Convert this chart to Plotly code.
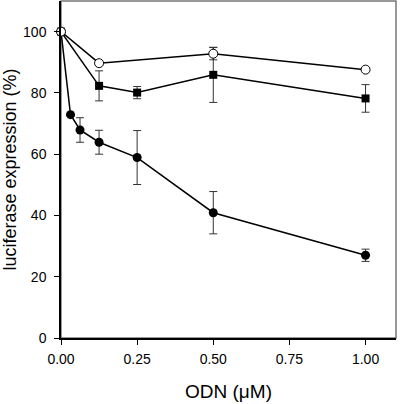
import plotly.graph_objects as go

# Data
x_open = [0, 0.125, 0.5, 1.0]
y_open = [100, 89.7, 92.8, 87.6]
e_open = [0, 0, 2.0, 0]

x_sq = [0, 0.125, 0.25, 0.5, 1.0]
y_sq = [100, 82.3, 80.1, 85.9, 78.2]
e_sq = [0, 4.9, 2.0, 9.0, 4.5]

x_fc = [0, 0.03125, 0.0625, 0.125, 0.25, 0.5, 1.0]
y_fc = [100, 72.9, 67.9, 63.9, 58.9, 40.9, 27.0]
e_fc = [0, 0, 4.0, 3.9, 8.8, 6.9, 2.0]

x_ticks = [0, 0.25, 0.5, 0.75, 1.0]
x_ticklabels = ["0.00", "0.25", "0.50", "0.75", "1.00"]
y_ticks = [0, 20, 40, 60, 80, 100]

font_family = "Liberation Sans, Arial, sans-serif"

fig = go.Figure()

def err(e):
    return dict(type="data", array=e, visible=True, color="#333333",
                thickness=1, width=4)

fig.add_trace(go.Scatter(
    x=x_fc, y=y_fc, mode="lines+markers", error_y=err(e_fc),
    line=dict(color="black", width=1.5),
    marker=dict(symbol="circle", size=9, color="black",
                line=dict(color="black", width=0)),
    showlegend=False, cliponaxis=False))

fig.add_trace(go.Scatter(
    x=x_sq, y=y_sq, mode="lines+markers", error_y=err(e_sq),
    line=dict(color="black", width=1.5),
    marker=dict(symbol="square", size=8, color="black",
                line=dict(color="black", width=0)),
    showlegend=False, cliponaxis=False))

fig.add_trace(go.Scatter(
    x=x_open, y=y_open, mode="lines+markers", error_y=err(e_open),
    line=dict(color="black", width=1.5),
    marker=dict(symbol="circle", size=9, color="white",
                line=dict(color="black", width=1)),
    showlegend=False, cliponaxis=False))

# Light frame on top/right
fig.add_shape(type="rect", xref="paper", yref="paper", x0=0, y0=0, x1=1, y1=1,
              line=dict(color="#777777", width=1.5), layer="below")

fig.update_layout(
    width=400, height=404,
    margin=dict(l=61, r=4, t=1, b=66),
    paper_bgcolor="white", plot_bgcolor="white",
    font=dict(family=font_family, color="black"),
    xaxis=dict(
        range=[0, 1.1], tickvals=x_ticks, ticktext=x_ticklabels,
        ticks="outside", ticklen=5, tickwidth=1, tickcolor="black",
        showline=True, linecolor="black", linewidth=1.5,
        showgrid=False, zeroline=False, automargin=False,
        tickfont=dict(size=14), ticklabelstandoff=2,
        title=dict(text="ODN (μM)", font=dict(size=19), standoff=19),
    ),
    yaxis=dict(
        range=[0, 110], tickvals=y_ticks,
        ticks="outside", ticklen=5, tickwidth=1, tickcolor="black",
        showline=True, linecolor="black", linewidth=1.5,
        showgrid=False, zeroline=False, automargin=False,
        tickfont=dict(size=14), ticklabelstandoff=5,
        title=dict(text="luciferase expression (%)", font=dict(size=18), standoff=11),
    ),
)

fig.write_html("out.html",
               config={"displayModeBar": False},
               post_script="document.body.style.margin='0';document.body.style.overflow='hidden';")
